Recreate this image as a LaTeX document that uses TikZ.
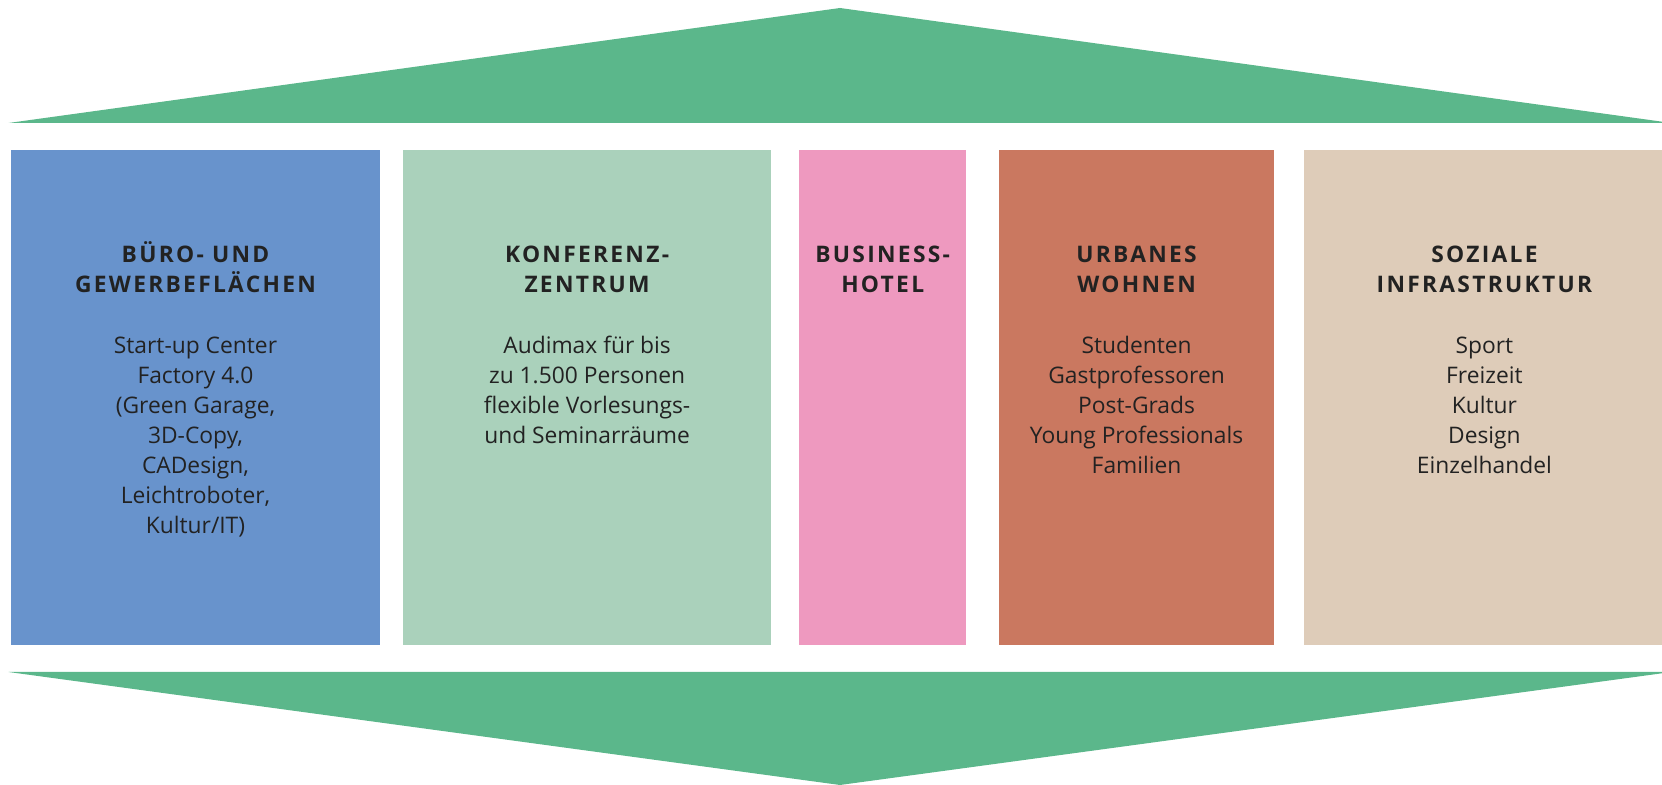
\documentclass[tikz,border=0pt]{standalone}
\usepackage{fontspec}
\setmainfont{Open Sans}
\newfontfamily\titelschrift{Open Sans}[LetterSpace=10]
\usetikzlibrary{positioning}

\definecolor{pfeilgruen}{HTML}{5BB78B}
\definecolor{bueroblau}{HTML}{6893CC}
\definecolor{konferenzgruen}{HTML}{AAD1BB}
\definecolor{hotelrosa}{HTML}{EE99BF}
\definecolor{wohnenrot}{HTML}{CA7860}
\definecolor{sozialbeige}{HTML}{DECCB9}
\definecolor{textgrau}{HTML}{222222}

% fixe Hoehe der ersten Zeile
\def\zs{\rule{0pt}{13pt}}

\tikzset{
	feld/.style={rectangle, inner sep=0pt, minimum height=247.5pt, anchor=north west},
	titel/.style={font=\titelschrift\bfseries\fontsize{11.4}{15}\selectfont, text=textgrau, align=center, anchor=north, inner sep=0pt},
	liste/.style={font=\fontsize{11.4}{15}\selectfont, text=textgrau, align=center, anchor=north, inner sep=0pt}
}

\begin{document}
\begin{tikzpicture}[x=0.5pt, y=-0.5pt]
			%%%%% START %%%%%
			\useasboundingbox (0, 0) rectangle (1662, 785);
			
			% Pfeil oben und Pfeil unten
			\fill[pfeilgruen] (8.5, 123) -- (840, 8) -- (1671.5, 123) -- cycle;
			\fill[pfeilgruen] (8.5, 672) -- (1671.5, 672) -- (840, 785) -- cycle;
			
			\coordinate (titelzeile) at (0, 236);
			\coordinate (listenzeile) at (0, 327);
			
			% Felder
			\node[feld, fill=bueroblau, minimum width=184.5pt] (buero) at (10.6, 150) {};
			\node[feld, fill=konferenzgruen, minimum width=183.9pt] (konferenz) at (402.8, 150) {};
			\node[feld, fill=hotelrosa, minimum width=83.3pt] (hotel) at (799, 150) {};
			\node[feld, fill=wohnenrot, minimum width=137.7pt] (wohnen) at (998.5, 150) {};
			\node[feld, fill=sozialbeige, minimum width=180pt] (sozial) at (1304, 150) {};
			
			% Titel
			\node[titel] (buero-titel) at (buero.north |- titelzeile) {\zs BÜRO- UND\\GEWERBEFLÄCHEN};
			\node[titel] (konferenz-titel) at (konferenz.north |- titelzeile) {\zs KONFERENZ-\\ZENTRUM};
			\node[titel] (hotel-titel) at (hotel.north |- titelzeile) {\zs BUSINESS-\\HOTEL};
			\node[titel] (wohnen-titel) at (wohnen.north |- titelzeile) {\zs URBANES\\WOHNEN};
			\node[titel] (sozial-titel) at (sozial.north |- titelzeile) {\zs SOZIALE\\INFRASTRUKTUR};
			
			% Listen
			\node[liste] (buero-liste) at (buero.north |- listenzeile) {\zs Start-up Center\\Factory 4.0\\(Green Garage,\\3D-Copy,\\CADesign,\\Leichtroboter,\\Kultur/IT)};
			\node[liste] (konferenz-liste) at (konferenz.north |- listenzeile) {\zs Audimax für bis\\zu 1.500 Personen\\flexible Vorlesungs-\\und Seminarräume};
			\node[liste] (wohnen-liste) at (wohnen.north |- listenzeile) {\zs Studenten\\Gastprofessoren\\Post-Grads\\Young Professionals\\Familien};
			\node[liste] (sozial-liste) at (sozial.north |- listenzeile) {\zs Sport\\Freizeit\\Kultur\\Design\\Einzelhandel};
			
			%%%%% END %%%%%
\end{tikzpicture}
\end{document}
